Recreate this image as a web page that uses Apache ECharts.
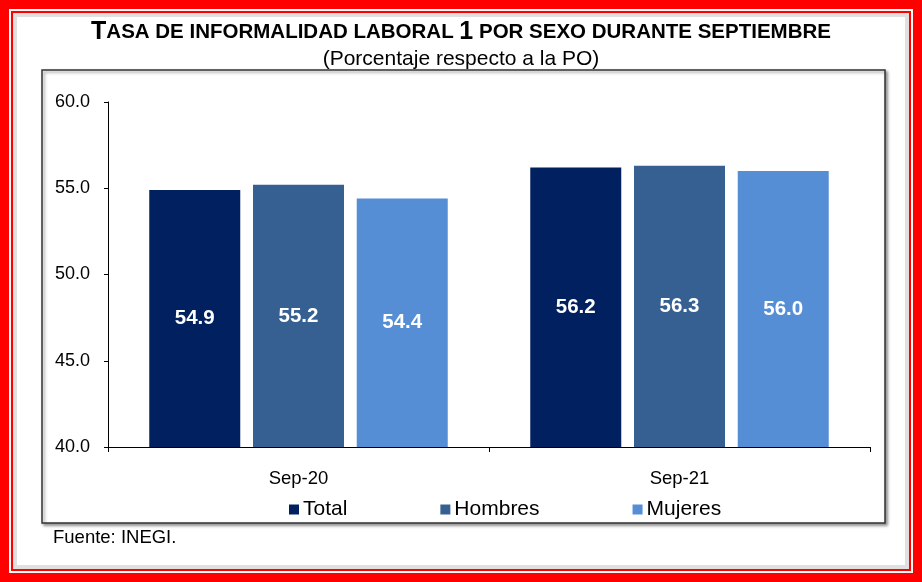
<!DOCTYPE html>
<html>
<head>
<meta charset="utf-8">
<script src="https://cdn.jsdelivr.net/npm/echarts@6/dist/echarts.min.js"></script>
<style>
html,body{margin:0;padding:0;background:#fff;}
#c{width:922px;height:582px;}
</style>
</head>
<body>
<div id="c"></div>
<script>
var categories = ['Sep-20', 'Sep-21'];
var seriesNames = ['Total', 'Hombres', 'Mujeres'];
var totalValues = [54.9, 56.2];
var hombresValues = [55.2, 56.3];
var mujeresValues = [54.4, 56.0];
var yTicks = [40, 45, 50, 55, 60];

var colors = ['#002060', '#376092', '#558ED5'];
var values = [totalValues, hombresValues, mujeresValues];
var FONT = 'Liberation Sans, Arial, sans-serif';

var chart = echarts.init(document.getElementById('c'), null, {renderer: 'canvas'});
var series = seriesNames.map(function (n, i) {
  return {
    name: n,
    type: 'bar',
    data: values[i],
    barWidth: 91,
    barGap: '14%',
    itemStyle: {color: colors[i]},
    label: {
      show: true,
      position: 'inside',
      color: '#fff',
      fontWeight: 'bold',
      fontSize: 20.5,
      fontFamily: FONT,
      formatter: function (p) { return p.value.toFixed(1); }
    }
  };
});

chart.setOption({
  animation: false,
  backgroundColor: '#fff',
  graphic: [
    {type: 'rect', shape: {x: 4.5, y: 4.5, width: 913, height: 573}, style: {fill: 'none', stroke: '#ff0000', lineWidth: 9}, z: 0},
    {type: 'rect', shape: {x: 12, y: 12, width: 898, height: 558}, style: {fill: 'none', stroke: '#ff0000', lineWidth: 2}, z: 0},
    {type: 'rect', shape: {x: 15, y: 15, width: 892, height: 552}, style: {fill: 'none', stroke: 'rgba(0,0,0,0.12)', lineWidth: 4}, z: 0},
    {type: 'rect', shape: {x: 42, y: 70, width: 843, height: 453}, style: {fill: '#fff', stroke: '#333', lineWidth: 1.5, shadowColor: 'rgba(0,0,0,0.4)', shadowBlur: 3, shadowOffsetX: 2, shadowOffsetY: 2}, z: 0},
    {type: 'text', left: 'center', top: 20, z: 10, style: {
      text: '{b|T}{s|ASA DE INFORMALIDAD LABORAL }{b|1}{s| POR SEXO DURANTE SEPTIEMBRE}',
      rich: {
        b: {fontSize: 25, fontWeight: 'bold', fontFamily: FONT, fill: '#000'},
        s: {fontSize: 20.5, fontWeight: 'bold', fontFamily: FONT, fill: '#000'}
      }
    }},
    {type: 'text', left: 'center', top: 49, z: 10, style: {text: '(Porcentaje respecto a la PO)', fontSize: 21, fontFamily: FONT, fill: '#000'}},
    {type: 'text', left: 53, top: 528, z: 10, style: {text: 'Fuente: INEGI.', fontSize: 18.5, fontFamily: FONT, fill: '#000'}}
  ],
  grid: {left: 108, right: 52, top: 102, bottom: 135, containLabel: false},
  legend: {
    data: seriesNames,
    left: 284,
    top: 494,
    itemWidth: 10,
    itemHeight: 10,
    itemGap: 93,
    icon: 'rect',
    textStyle: {fontSize: 21, fontFamily: FONT, color: '#000', padding: [0, 0, 0, -1]}
  },
  xAxis: {
    type: 'category',
    data: categories,
    axisLine: {lineStyle: {color: '#000', width: 1}},
    axisTick: {show: true, length: 5, lineStyle: {color: '#000'}},
    axisLabel: {fontSize: 18.5, fontFamily: FONT, color: '#000', margin: 22}
  },
  yAxis: {
    type: 'value',
    min: 40,
    max: 60,
    interval: 5,
    axisLine: {show: true, lineStyle: {color: '#000', width: 1}},
    axisTick: {show: true, length: 4, lineStyle: {color: '#000'}},
    splitLine: {show: false},
    axisLabel: {fontSize: 18, fontFamily: FONT, color: '#000', margin: 18,
      formatter: function (v) { return yTicks.indexOf(v) >= 0 ? v.toFixed(1) : ''; }}
  },
  series: series
});
</script>
</body>
</html>
